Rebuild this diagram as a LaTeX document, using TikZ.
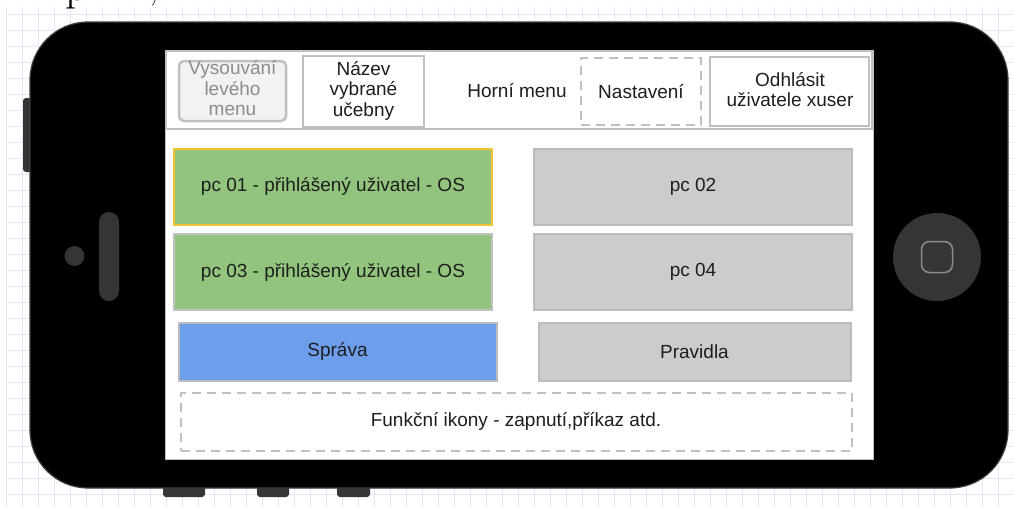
\documentclass[tikz,border=0pt]{standalone}
\usepackage{fontspec}
\newfontfamily\uifont{Liberation Sans}
\definecolor{gridc}{HTML}{E6E6FA}
\definecolor{bodyc}{HTML}{000000}
\definecolor{partc}{HTML}{353535}
\definecolor{framec}{HTML}{C0C0C0}
\definecolor{txt}{HTML}{1E1E1E}
\definecolor{greenc}{HTML}{93C47D}
\definecolor{goldc}{HTML}{F1C232}
\definecolor{greyc}{HTML}{CCCCCC}
\definecolor{greyline}{HTML}{BBBBBB}
\definecolor{bluec}{HTML}{6D9EEB}
\tikzset{
  gridline/.style={draw=gridc, line width=0.9pt},
  part/.style={fill=partc, draw=none},
  ui/.style={font=\uifont\fontsize{19}{20.5}\selectfont, text=txt, align=center, inner sep=0pt},
  frame/.style={ui, draw=framec, line width=2pt, fill=white},
  dashframe/.style={ui, draw=framec, line width=2pt, dash pattern=on 9pt off 6pt},
  pcbox/.style={ui, line width=2pt, minimum width=318pt, minimum height=76pt},
  captext/.style={anchor=base west, font=\fontsize{44}{44}\selectfont, inner sep=0pt},
}
\begin{document}
\begin{tikzpicture}[x=1pt,y=-1pt]
\useasboundingbox (0,0) rectangle (1013,507);
\fill[white] (0,0) rectangle (1013,507);

% background grid
\foreach \i in {0,...,62} {\draw[gridline] ({6.3+16*\i},7) -- ({6.3+16*\i},507);}
\foreach \j in {0,...,31} {\draw[gridline] (8,{14+16*\j}) -- (1013,{14+16*\j});}

% caption line above, mostly outside the page
\node[captext] (capp) at (65,0.5) {p};
\node[captext] (capc) at (148,-3) {,};

% phone side button and bottom buttons
\draw[part, rounded corners=3pt] (23,98) rectangle (33,172);
\draw[part, rounded corners=3pt] (163,480) rectangle (205,497);
\draw[part, rounded corners=3pt] (257,480) rectangle (289,497);
\draw[part, rounded corners=3pt] (337,480) rectangle (370,497);

% phone body
\draw[fill=bodyc, draw=black!75, line width=1.2pt, rounded corners=58pt] (30,22) rectangle (1008,488);

% speaker, camera, home button
\draw[part, rounded corners=10pt] (99,212) rectangle (119,301);
\fill[partc] (74.5,256) circle (10);
\fill[partc] (937,257) circle (44);
\draw[draw=black!45, line width=1.5pt, rounded corners=8pt] (921.5,241.5) rectangle (952.5,272.5);

% screen
\draw[fill=white, draw=framec, line width=1pt] (165,50) rectangle (873,459);
\draw[draw=framec, line width=2pt] (166,51) rectangle (872,128.5);

% header
\node[ui, draw=framec, line width=2.5pt, fill=black!5, rounded corners=5pt,
      minimum width=107pt, minimum height=60pt, text=black!45] (slide) at (232.5,91) {};
\node[ui, text=black!45] (slidetxt) at (232.5,88.5) {Vysouvání\\levého\\menu};
\node[frame, minimum width=121pt, minimum height=71pt] (room) at (363.5,91.5) {};
\node[ui] (roomtxt) at (363.5,90.5) {Název\\vybrané\\učebny};
\node[ui] (topmenu) at (517,91) {Horní menu};
\node[dashframe, minimum width=120pt, minimum height=67pt] (settings) at (641,91.5) {Nastavení};
\node[frame, minimum width=159pt, minimum height=69pt] (logout) at (789.5,91.5) {};
\node[ui] (logouttxt) at (790,89.5) {Odhlásit\\uživatele xuser};

% computers
\node[pcbox, fill=greenc, draw=goldc] (pc1) at (333,186.5) {pc 01 - přihlášený uživatel - OS};
\node[pcbox, fill=greenc, draw=framec] (pc3) at (333,272) {pc 03 - přihlášený uživatel - OS};
\node[pcbox, fill=greyc, draw=greyline] (pc2) at (693,186.5) {pc 02};
\node[pcbox, fill=greyc, draw=greyline] (pc4) at (693,272) {pc 04};

% bottom actions
\node[ui, fill=bluec, draw=greyline, line width=2pt, minimum width=318pt, minimum height=58pt] (admin) at (337.5,351.5) {Správa};
\node[ui, fill=greyc, draw=greyline, line width=2pt, minimum width=312pt, minimum height=58pt] (rules) at (694.5,351.5) {Pravidla};
\node[dashframe, minimum width=671pt, minimum height=58pt] (icons) at (516,421.5) {Funkční ikony - zapnutí,příkaz atd.};
\end{tikzpicture}
\end{document}
